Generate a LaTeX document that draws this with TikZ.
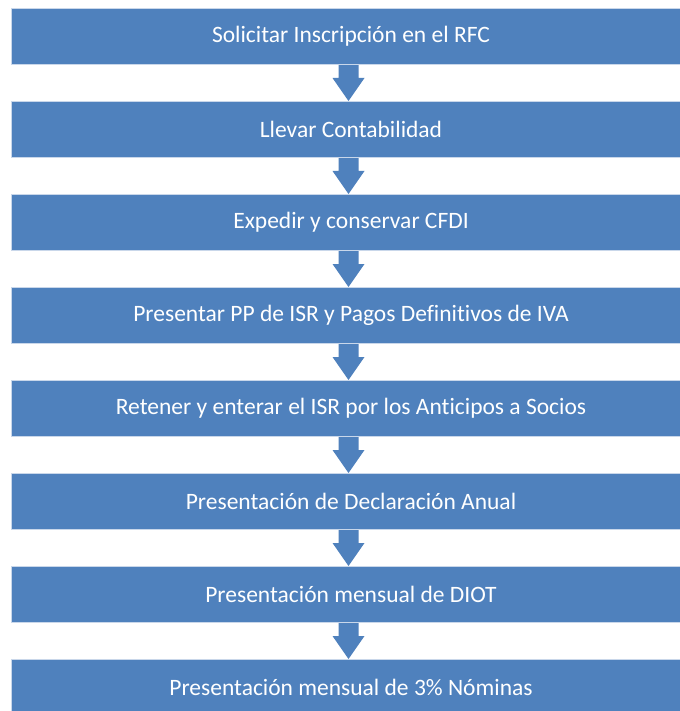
\documentclass[tikz,border=0pt]{standalone}
\usepackage{fontspec}
\setmainfont{Carlito}[Ligatures=NoCommon]
\usetikzlibrary{backgrounds,calc}
\definecolor{stepblue}{HTML}{4F81BD}
\definecolor{stepedge}{HTML}{C9D7EA}
\begin{document}
\begin{tikzpicture}[x=1pt,y=-1pt,
  stepbox/.style={fill=stepblue, draw=stepedge, line width=1pt,
    minimum width=680pt, minimum height=56pt, inner sep=0pt,
    text=white, font=\fontsize{23.5}{28}\selectfont, anchor=north},
  flowarrow/.style={fill=stepblue, draw=none}]
\useasboundingbox (0,0) rectangle (679,711);
% process steps, one every 93pt
\node[stepbox] (s1) at (351,8)   {Solicitar Inscripción en el RFC};
\node[stepbox] (s2) at (351,101) {Llevar Contabilidad};
\node[stepbox] (s3) at (351,194) {Expedir y conservar CFDI};
\node[stepbox] (s4) at (351,287) {Presentar PP de ISR y Pagos Definitivos de IVA};
\node[stepbox] (s5) at (351,380) {Retener y enterar el ISR por los Anticipos a Socios};
\node[stepbox] (s6) at (351,473) {Presentación de Declaración Anual};
\node[stepbox] (s7) at (351,566) {Presentación mensual de DIOT};
\node[stepbox] (s8) at (351,659) {Presentación mensual de 3\% Nóminas};
% white page, then block arrows between consecutive steps, behind the boxes
\begin{scope}[on background layer]
\fill[white] (0,0) rectangle (679,711);
\foreach \a/\b in {s1/s2,s2/s3,s3/s4,s4/s5,s5/s6,s6/s7,s7/s8}{
  \fill[flowarrow] let \p1=(\a.south), \p2=(\b.north) in
    (348.5pt-10pt,\y1) -- (348.5pt+10pt,\y1) -- (348.5pt+10pt,\y2+23pt)
    -- (348.5pt+16pt,\y2+23pt) -- (348.5pt,\y2) -- (348.5pt-16pt,\y2+23pt)
    -- (348.5pt-10pt,\y2+23pt) -- cycle;
}
\end{scope}
\end{tikzpicture}
\end{document}
